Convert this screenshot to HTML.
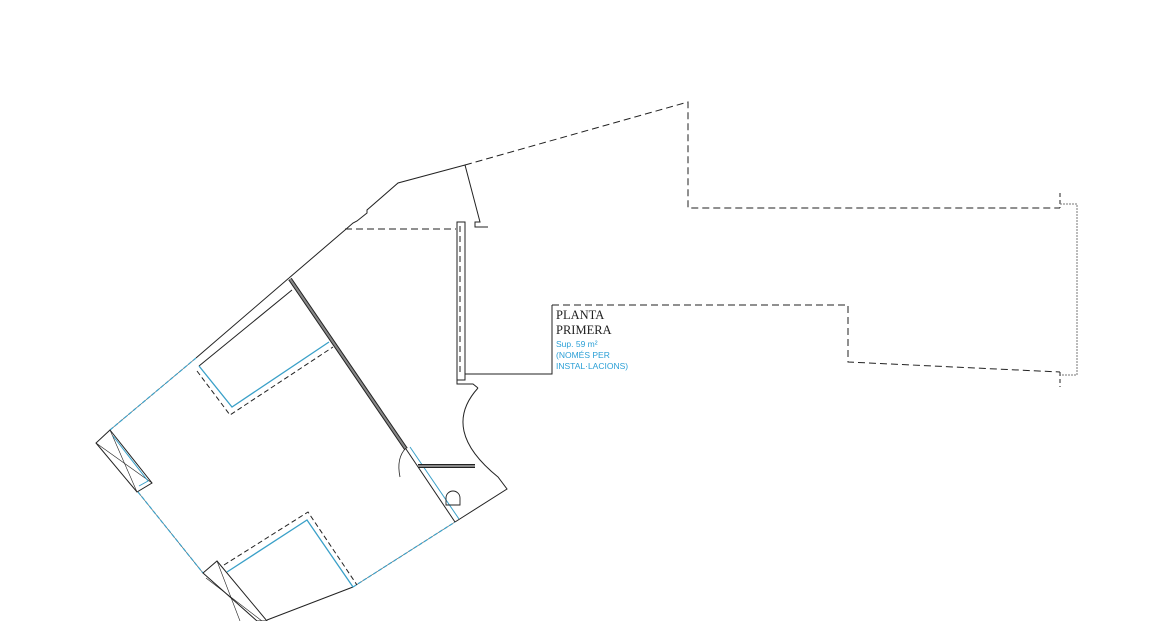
<!DOCTYPE html>
<html><head><meta charset="utf-8"><style>html,body{margin:0;padding:0;background:#fff}svg{display:block}</style></head>
<body>
<svg width="1150" height="621" viewBox="0 0 1150 621" xmlns="http://www.w3.org/2000/svg">
<g fill="none" stroke="#222" stroke-width="1">
<polyline points="289,278 345,230 353,223 357,221 367,213 367,210 398,183 465,165 480,222 475,222 475,227 488,227"/>
<line x1="345" y1="229" x2="456" y2="229" stroke-dasharray="7,4"/>
<rect x="457" y="222" width="8" height="158"/>
<line x1="460" y1="226" x2="460" y2="376" stroke-dasharray="6,4"/>
<polyline points="465,374 552,374 552,305"/>
<polyline points="552,305 848,305 848,362 1060,372" stroke-dasharray="7,4"/>
<polyline points="465,165 688,102 688,208 1060,208" stroke-dasharray="7,4"/>
<line x1="1060" y1="193" x2="1060" y2="208" stroke-dasharray="4,3"/>
<line x1="1060" y1="372" x2="1060" y2="387" stroke-dasharray="4,3"/>
<polyline points="1060,204 1077,204 1077,375 1060,375" stroke="#777" stroke-dasharray="2,1"/>
<polyline points="457,380 457,384 473,384 478,388"/>
<path d="M478,388 Q440,430 498,477 L507,489 L455,522"/>
<line x1="289" y1="278" x2="196" y2="358"/>
<g stroke="#555" stroke-width="0.6">
<line x1="196" y1="358" x2="110" y2="430"/>
<line x1="138" y1="492" x2="203" y2="573"/>
<line x1="353" y1="587" x2="455" y2="522"/>
</g>
<g stroke="#3aa0c8" stroke-dasharray="4,2" stroke-width="1.2">
<line x1="196" y1="358" x2="110" y2="430"/>
<line x1="138" y1="492" x2="203" y2="573"/>
<line x1="353" y1="587" x2="455" y2="522"/>
</g>
<line x1="267" y1="620" x2="353" y2="587"/>
<polygon points="110,430 152,483 137,492 96,443"/>
<line x1="110" y1="430" x2="137" y2="492" stroke-width="0.6"/>
<line x1="152" y1="483" x2="96" y2="443" stroke-width="0.6"/>
<polyline points="113,436 148,481 139,486" stroke="#3aa0c8"/>
<polygon points="203,573 217,561 267,621 257,621"/>
<line x1="206" y1="578" x2="262" y2="621" stroke-width="0.6"/>
<line x1="217" y1="561" x2="240" y2="621" stroke-width="0.6"/>
<line x1="292" y1="290" x2="199" y2="366"/>
<polyline points="199,366 232,407 329,342" stroke="#3aa0c8" stroke-width="1.3"/>
<polyline points="197,371 230,415 333,347" stroke-dasharray="5,3"/>
<polyline points="227,572 307,520 353,587" stroke="#3aa0c8" stroke-width="1.3"/>
<polyline points="224,565 308,512 357,585" stroke-dasharray="5,3"/>
<line x1="290" y1="279" x2="406" y2="449" stroke="#222" stroke-width="4"/>
<line x1="290" y1="279" x2="406" y2="449" stroke="#888" stroke-width="2"/>
<line x1="406" y1="449" x2="455" y2="522"/>
<line x1="410" y1="447" x2="459" y2="519" stroke="#3aa0c8"/>
<line x1="418" y1="466" x2="475" y2="466" stroke="#222" stroke-width="4"/>
<line x1="418" y1="466" x2="475" y2="466" stroke="#888" stroke-width="2"/>
<path d="M400,477 Q396,458 406,448" stroke-width="0.8"/>
<path d="M446,505 L446,498 A7,7 0 1 1 460,498 L460,505 Z" stroke-width="0.9"/>
</g>
<g font-family="Liberation Serif, serif" font-size="12.5" fill="#222">
<text x="556" y="319">PLANTA</text>
<text x="556" y="334">PRIMERA</text>
</g>
<g font-family="Liberation Sans, sans-serif" font-size="8.5" fill="#2a9fd6">
<text x="556" y="347">Sup. 59 m²</text>
<text x="556" y="358">(NOMÉS PER</text>
<text x="556" y="369">INSTAL·LACIONS)</text>
</g>
</svg>
</body></html>
